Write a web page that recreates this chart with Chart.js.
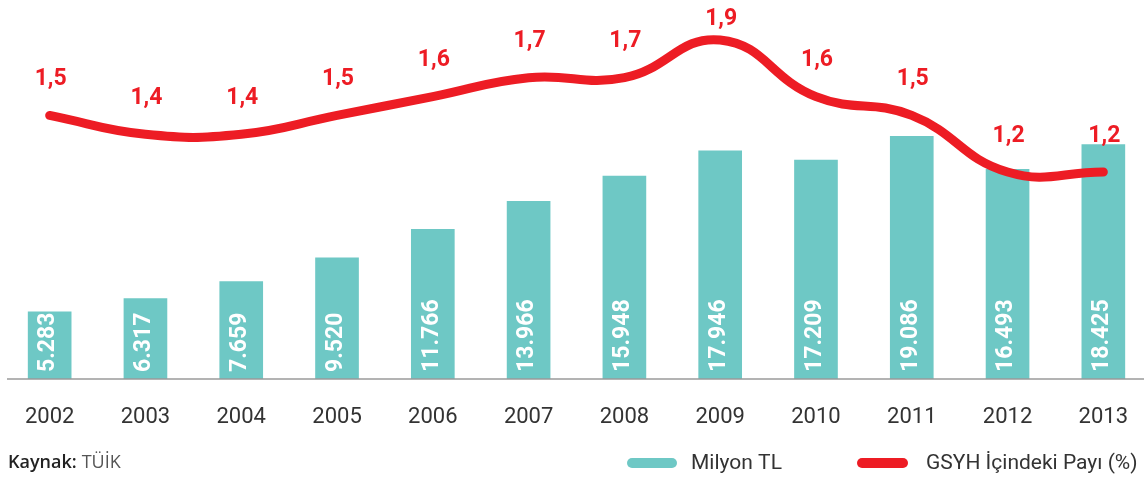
<!DOCTYPE html>
<html>
<head>
<meta charset="utf-8">
<script src="https://cdn.jsdelivr.net/npm/chart.js@4/dist/chart.umd.min.js"></script>
<style>
html,body{margin:0;padding:0;background:#fff;overflow:hidden;}
#wrap{position:relative;width:1144px;height:477px;overflow:hidden;}
#c{position:absolute;left:0;top:0;}
</style>
</head>
<body>
<div id="wrap"><canvas id="c" width="1153" height="477"></canvas></div>
<script>
const years = ['2002','2003','2004','2005','2006','2007','2008','2009','2010','2011','2012','2013'];
const milyonTL = [5283, 6317, 7659, 9520, 11766, 13966, 15948, 17946, 17209, 19086, 16493, 18425];
const gsyhPayi = [1.5, 1.4, 1.4, 1.5, 1.6, 1.7, 1.7, 1.9, 1.6, 1.5, 1.2, 1.2];
const seriesNames = ['Milyon TL', 'GSYH İçindeki Payı (%)'];
const sourceBold = 'Kaynak:';
const sourceText = 'TÜİK';

const TEAL = '#6ec8c5';
const RED = '#ed1c24';

function fmtThousands(v){
  return String(v).replace(/\B(?=(\d{3})+(?!\d))/g, '.');
}
function fmtDec(v){ return v.toFixed(1).replace('.', ','); }

const labelsPlugin = {
  id: 'customLabels',
  afterDatasetsDraw(chart){
    const ctx = chart.ctx;
    const barMeta = chart.getDatasetMeta(0);
    ctx.save();
    ctx.fillStyle = '#ffffff';
    ctx.font = 'bold 23px Roboto';
    ctx.textAlign = 'left';
    ctx.textBaseline = 'middle';
    barMeta.data.forEach((el, i) => {
      ctx.save();
      ctx.translate(el.x - 1, el.base - 7);
      ctx.rotate(-Math.PI/2);
      ctx.fillText(fmtThousands(milyonTL[i]), 0, 0);
      ctx.restore();
    });
    ctx.restore();
    const lineMeta = chart.getDatasetMeta(1);
    ctx.save();
    ctx.fillStyle = RED;
    ctx.font = 'bold 23px Roboto';
    ctx.textAlign = 'center';
    ctx.textBaseline = 'middle';
    lineMeta.data.forEach((el, i) => {
      let y = Math.max(el.y - 36, 19);
      ctx.fillText(fmtDec(gsyhPayi[i]), el.x + 1, y);
    });
    ctx.restore();
  },
  afterDraw(chart){
    const ctx = chart.ctx;
    const area = chart.chartArea;
    ctx.save();
    ctx.strokeStyle = '#9a9a9a';
    ctx.lineWidth = 1.5;
    ctx.beginPath();
    ctx.moveTo(7, area.bottom);
    ctx.lineTo(1153, area.bottom);
    ctx.stroke();
    ctx.textBaseline = 'middle';
    ctx.textAlign = 'left';
    ctx.fillStyle = '#222';
    ctx.font = '600 18px "Open Sans"';
    ctx.fillText(sourceBold, 8, 463);
    const w = ctx.measureText(sourceBold).width;
    ctx.fillStyle = '#555';
    ctx.font = '400 18px "Open Sans"';
    ctx.fillText(sourceText, 8 + w + 5, 463);
    function pill(x1, x2, yc, h, color){
      ctx.strokeStyle = color;
      ctx.lineWidth = h;
      ctx.lineCap = 'round';
      ctx.beginPath();
      ctx.moveTo(x1 + h/2, yc);
      ctx.lineTo(x2 - h/2, yc);
      ctx.stroke();
    }
    pill(627, 677, 463, 10, TEAL);
    pill(857, 908, 463, 10, RED);
    ctx.fillStyle = '#333';
    ctx.font = '400 21px Roboto';
    ctx.fillText(seriesNames[0], 691, 464);
    ctx.fillText(seriesNames[1], 926, 464);
    ctx.restore();
  }
};

new Chart(document.getElementById('c'), {
  data: {
    labels: years,
    datasets: [
      {
        type: 'bar',
        label: seriesNames[0],
        data: milyonTL,
        yAxisID: 'y',
        backgroundColor: TEAL,
        barThickness: 43,
        order: 1
      },
      {
        type: 'line',
        label: seriesNames[1],
        data: gsyhPayi,
        yAxisID: 'y2',
        borderColor: RED,
        borderWidth: 9,
        borderCapStyle: 'round',
        pointRadius: 0,
        tension: 0.45,
        fill: false,
        order: 0
      }
    ]
  },
  options: {
    responsive: false,
    animation: false,
    layout: { padding: { left: 0, right: 0, top: 0, bottom: 0 } },
    plugins: { legend: { display: false }, tooltip: { enabled: false } },
    scales: {
      x: {
        grid: { display: false, drawTicks: false },
        border: { display: false },
        ticks: { color: '#333', font: { family: 'Roboto', size: 22, weight: '400' }, padding: 25 },
        afterFit(scale){ scale.height = 98; }
      },
      y: {
        display: false,
        min: 0,
        max: 29800
      },
      y2: {
        display: false,
        min: 0.1026,
        max: 2.112
      }
    }
  },
  plugins: [labelsPlugin]
});
</script>
</body>
</html>
